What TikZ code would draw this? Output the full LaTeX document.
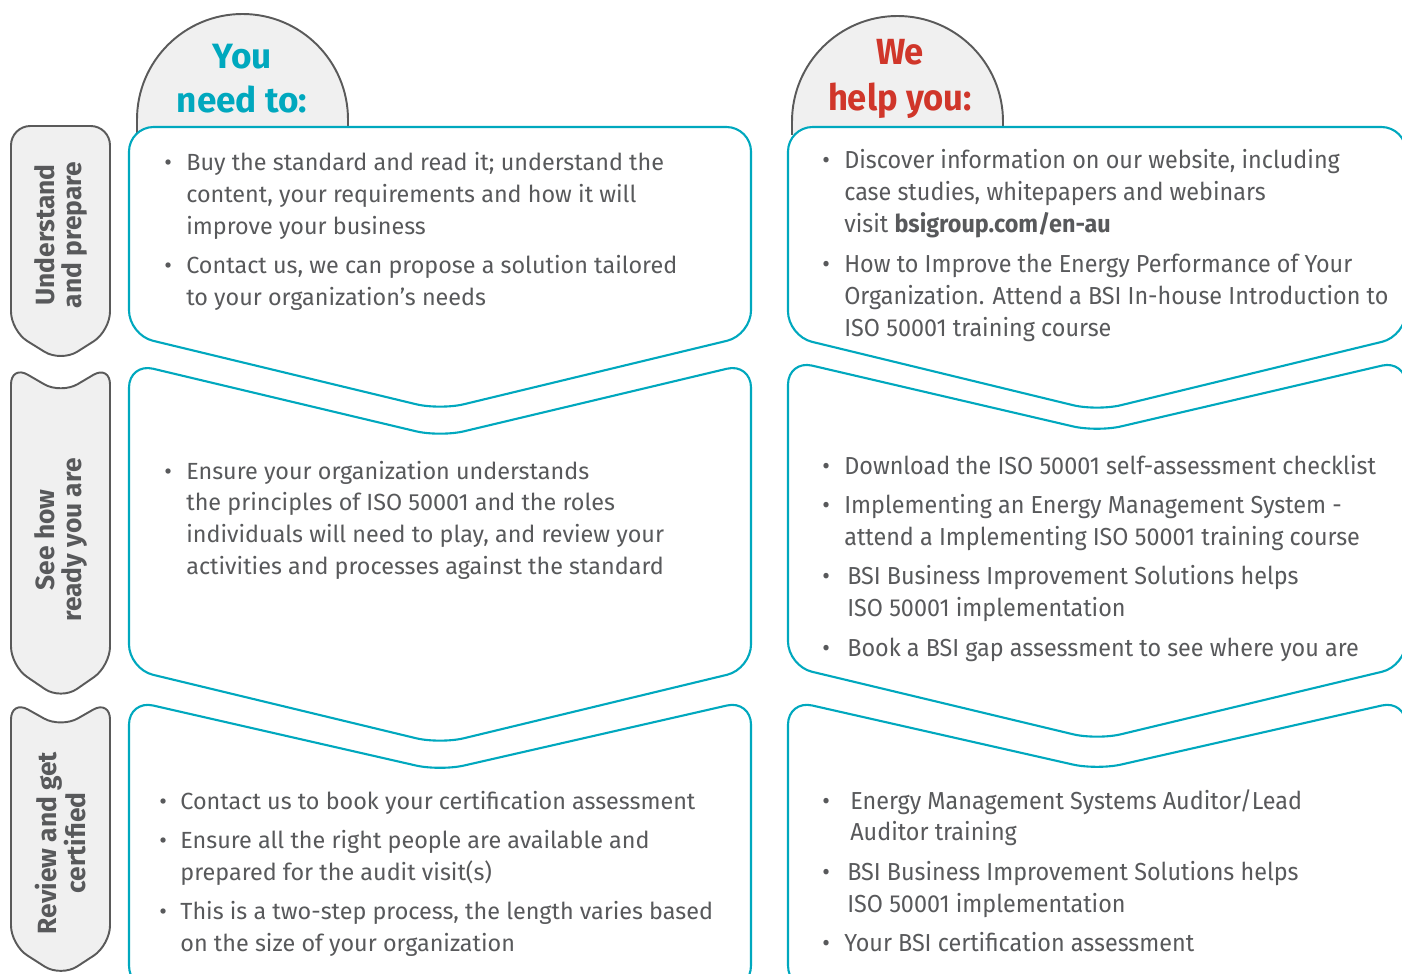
\documentclass[tikz,border=0pt]{standalone}
\usepackage{fontspec}
\setmainfont{Fira Sans}
\newfontfamily\narrowfont[FakeStretch=0.95]{Fira Sans}
\definecolor{bsiteal}{RGB}{0,168,190}
\definecolor{bsired}{RGB}{208,54,42}
\definecolor{textgray}{RGB}{88,89,91}
\definecolor{tabgray}{RGB}{240,240,240}
\definecolor{tabline}{RGB}{90,90,90}

\begin{document}
\begin{tikzpicture}[x=0.02cm, y=-0.02cm]
\useasboundingbox (0,0) rectangle (1402,973);
\clip (0,0) rectangle (1402,973);

\begin{scope}[fill=tabgray, draw=tabline, line width=1.1pt]
    \filldraw (137,135) -- (137,119.5) arc[start angle=180, end angle=360, radius=105.5] -- (348,135);
    \filldraw (792,135) -- (792,121.5) arc[start angle=180, end angle=360, radius=105.5] -- (1003,135);
\end{scope}

\begin{scope}[fill=white, draw=bsiteal, line width=1.2pt, rounded corners=14]
    \filldraw (129,127) -- (751,127) -- (751,335) -- (440,410) -- (129,335) -- cycle;
    \filldraw (129,363) -- (440,437) -- (751,363) -- (751,669) -- (440,744) -- (129,669) -- cycle;
    \filldraw (129,700) -- (440,771) -- (751,700) -- (751,990) -- (440,1060) -- (129,990) -- cycle;

    \filldraw (788,127) -- (1406,127) -- (1406,336) -- (1097,411) -- (788,336) -- cycle;
    \filldraw (788,360) -- (1097,432) -- (1406,360) -- (1406,666) -- (1097,740) -- (788,666) -- cycle;
    \filldraw (788,700) -- (1097,770) -- (1406,700) -- (1406,990) -- (1097,1060) -- (788,990) -- cycle;
\end{scope}

\begin{scope}[fill=tabgray, draw=tabline, line width=1.1pt, rounded corners=11]
    \filldraw (11,126) -- (110,126) -- (110,331) -- (61,362) -- (11,331) -- cycle;
    \filldraw (11,365) -- (61,394) -- (110,365) -- (110,666) -- (61,700) -- (11,666) -- cycle;
    \filldraw (11,700) -- (61,728) -- (110,700) -- (110,945) -- (61,977) -- (11,945) -- cycle;
\end{scope}

\begin{scope}[every node/.style={inner sep=0pt, align=center, font=\bfseries\fontsize{20}{25}\selectfont}]
    \node (you) at (242,79) [text=bsiteal] {You\\need to:};
    \node (we) at (900,79) [text=bsired, font=\narrowfont\bfseries\fontsize{20.7}{26}\selectfont] {We\\help you:};
\end{scope}

\begin{scope}[every node/.style={inner sep=0pt, align=center, rotate=90, text=textgray,
                                 font=\bfseries\fontsize{15}{15.3}\selectfont}]
    \node (prepare) at (61,235) {Understand\\and prepare};
    \node (ready) at (61,540) {See how\\ready you are};
    \node (certified) at (61,843) {Review and get\\certified};
\end{scope}

\begin{scope}[every node/.style={inner sep=0pt, anchor=base west, text=textgray,
                                 font=\fontsize{13.3}{18.14}\selectfont}]
    \node (needprep) at (164,171) {\begin{tabular}[t]{@{}p{12.5pt}@{}l@{}}
        \textbullet & Buy the standard and read it; understand the\\
        & content, your requirements and how it will\\
        & improve your business\\[4pt]
        \textbullet & Contact us, we can propose a solution tailored\\
        & to your organization’s needs
    \end{tabular}};
    \node (needready) at (164,479) {\begin{tabular}[t]{@{}p{12.5pt}@{}l@{}}
        \textbullet & Ensure your organization understands\\
        & the principles of ISO 50001 and the roles\\
        & individuals will need to play, and review your\\
        & activities and processes against the standard
    \end{tabular}};
    \node (needcert) at (159,809) {\begin{tabular}[t]{@{}p{12pt}@{}l@{}}
        \textbullet & Contact us to book your certification assessment\\[4.3pt]
        \textbullet & Ensure all the right people are available and\\
        & prepared for the audit visit(s)\\[4pt]
        \textbullet & This is a two-step process, the length varies based\\
        & on the size of your organization
    \end{tabular}};
\end{scope}

\begin{scope}[every node/.style={inner sep=0pt, anchor=base west, text=textgray,
                                 font=\narrowfont\fontsize{14}{18.14}\selectfont}]
    \node (helpprep) at (822,169) {\begin{tabular}[t]{@{}p{12.5pt}@{}l@{}}
        \textbullet & Discover information on our website, including\\
        & case studies, whitepapers and webinars\\
        & visit \textbf{bsigroup.com/en-au}\\[4.5pt]
        \textbullet & How to Improve the Energy Performance of Your\\
        & Organization. Attend a BSI In-house Introduction to\\
        & ISO 50001 training course
    \end{tabular}};
    \node (helpready) at (822,474) {\begin{tabular}[t]{@{}p{12.5pt}@{}l@{}}
        \textbullet & Download the ISO 50001 self-assessment checklist\\[4.5pt]
        \textbullet & Implementing an Energy Management System -\\
        & attend a Implementing ISO 50001 training course\\[4pt]
        \textbullet & \hspace*{1.7pt}BSI Business Improvement Solutions helps\\
        & \hspace*{1.7pt}ISO 50001 implementation\\[4.5pt]
        \textbullet & \hspace*{1.7pt}Book a BSI gap assessment to see where you are
    \end{tabular}};
    \node (helpcert) at (822,809) {\begin{tabular}[t]{@{}p{12.5pt}@{}l@{}}
        \textbullet & \hspace*{3.4pt}Energy Management Systems Auditor/Lead\\
        & \hspace*{3.4pt}Auditor training\\[4.5pt]
        \textbullet & \hspace*{1.7pt}BSI Business Improvement Solutions helps\\
        & \hspace*{1.7pt}ISO 50001 implementation\\[4pt]
        \textbullet & Your BSI certification assessment
    \end{tabular}};
\end{scope}
\end{tikzpicture}
\end{document}
